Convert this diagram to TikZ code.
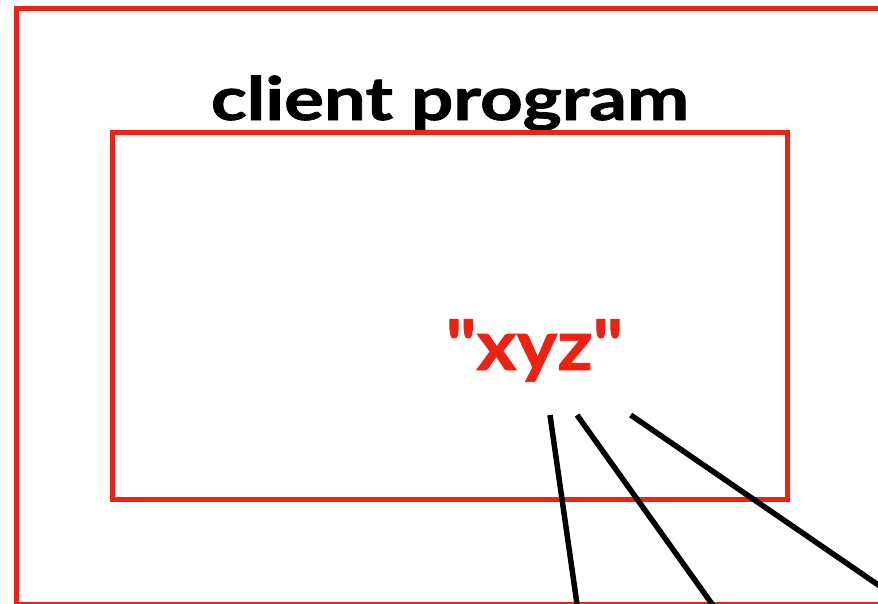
\documentclass[tikz,border=0pt]{standalone}
\usepackage{fontspec}
\setmainfont{Lato}[BoldFont={* Bold}, BoldFeatures={FakeBold=1.2}]
\newfontfamily\valfont{Lato}[BoldFont={* Bold}, BoldFeatures={FakeBold=1.2}]
\definecolor{boxred}{RGB}{237,34,18}
\tikzset{
  redframe/.style={draw=boxred, line width=5pt, line join=miter},
  wire/.style={draw=black, line width=5.5pt},
  titletext/.style={font=\fontsize{60}{60}\selectfont\bfseries, text=black, inner sep=0pt, anchor=base},
  valtext/.style={font=\valfont\fontsize{70}{70}\selectfont\bfseries, text=boxred, inner sep=0pt, anchor=base}
}
\begin{document}
\begin{tikzpicture}[x=1pt,y=-1pt]
\useasboundingbox (0,0) rectangle (878,603);
\clip (0,0) rectangle (878,603);
% outer frame
\draw[redframe] (16.5,8) rectangle (905,604.5);
% title
\node[titletext] (title) at (450,120) {\scalebox{1.24}[1]{client program}};
% inner frame
\node[redframe, minimum width=674.5pt, minimum height=367pt, inner sep=0pt] (inner) at (450,316) {};
% value
\node[valtext] (xyz) at (534.5,370) {\scalebox{1.1}[1]{"xyz"}};
% wires
\coordinate (w1s) at (550,415);
\coordinate (w1e) at (580,625);
\coordinate (w2s) at (577,415);
\coordinate (w2e) at (727,625);
\coordinate (w3s) at (630.7,415);
\coordinate (w3e) at (906,604);
\draw[wire] (w1s) -- (w1e);
\draw[wire] (w2s) -- (w2e);
\draw[wire] (w3s) -- (w3e);
\end{tikzpicture}
\end{document}
